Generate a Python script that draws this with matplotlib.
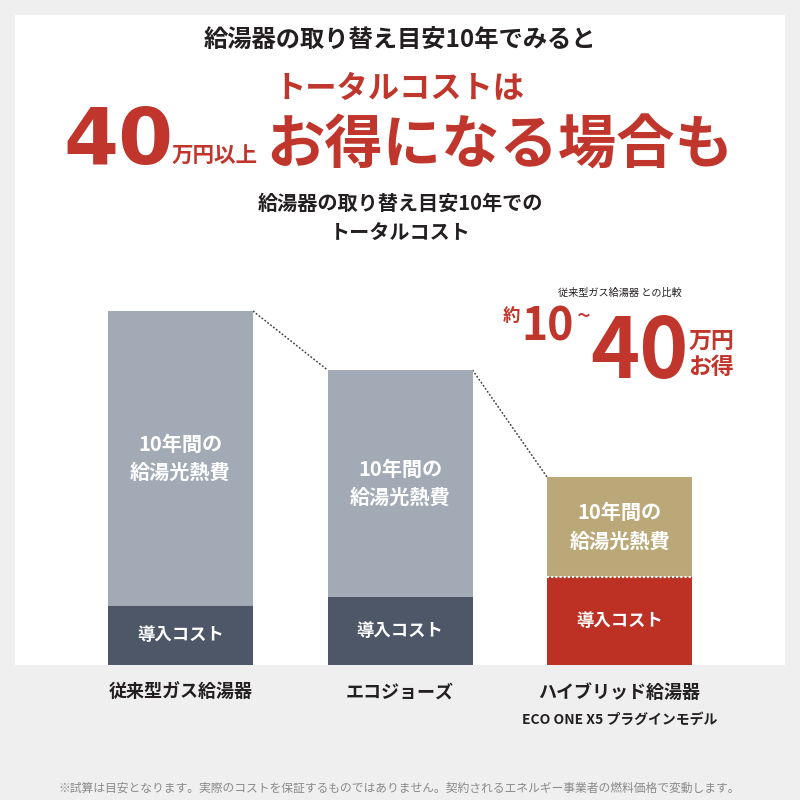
import matplotlib
matplotlib.use("Agg")
import matplotlib.pyplot as plt
from matplotlib.patches import Rectangle

plt.rcParams['font.family'] = ['Noto Sans CJK JP', 'DejaVu Sans']

# ---- data (relative heights) ----
categories = ["従来型ガス給湯器", "エコジョーズ", "ハイブリッド給湯器"]
subtitle_third = "ECO ONE X5 プラグインモデル"
intro_cost = [59, 68, 88]          # 導入コスト
energy_cost = [295, 227, 100]      # 10年間の給湯光熱費
energy_label = "10年間の\n給湯光熱費"
intro_label = "導入コスト"

C_BG = "#efefef"
C_LIGHT = "#a1aab5"
C_DARK = "#4e5767"
C_TAN = "#bba878"
C_RED = "#bd3125"
C_TXT = "#231f20"
C_RTXT = "#c0362c"

W, H = 800, 800
fig = plt.figure(figsize=(8, 8), dpi=100, facecolor=C_BG)

def fx(x):
    return x / W

def fy(y):
    return 1 - y / H

# white panel
fig.patches.append(Rectangle((fx(15), fy(665)), fx(770), 650 / H,
                             transform=fig.transFigure, facecolor="white",
                             edgecolor="none", zorder=-10))

# ---- headline texts ----
fig.text(fx(400), fy(40), "給湯器の取り替え目安10年でみると", ha="center", va="center",
         fontsize=17.5, fontweight="bold", color=C_TXT)
fig.text(fx(400), fy(89), "トータルコストは", ha="center", va="center",
         fontsize=22.5, fontweight="bold", color=C_RTXT)
fig.text(fx(63), fy(164), "40", ha="left", va="baseline", fontsize=57,
         fontweight="bold", color=C_RTXT, family="DejaVu Sans")
fig.text(fx(172), fy(156), "万円以上", ha="left", va="center", fontsize=15.5,
         fontweight="bold", color=C_RTXT)
fig.text(fx(266), fy(147), "お得になる場合も", ha="left", va="center", fontsize=42,
         fontweight="bold", color=C_RTXT)
fig.text(fx(400), fy(203), "給湯器の取り替え目安10年での", ha="center", va="center",
         fontsize=14.5, fontweight="bold", color=C_TXT)
fig.text(fx(400), fy(233), "トータルコスト", ha="center", va="center",
         fontsize=14.5, fontweight="bold", color=C_TXT)

# ---- comparison callout ----
fig.text(fx(620), fy(293), "従来型ガス給湯器 との比較", ha="center", va="center",
         fontsize=7.3, color=C_TXT)
fig.text(fx(511), fy(316), "約", ha="center", va="center", fontsize=12.5,
         fontweight="bold", color=C_RTXT)
fig.text(fx(521), fy(340), "10", ha="left", va="baseline", fontsize=32,
         fontweight="bold", color=C_RTXT)
fig.text(fx(584), fy(317), "~", ha="center", va="center", fontsize=18,
         color=C_RTXT)
fig.text(fx(590), fy(378), "40", ha="left", va="baseline", fontsize=60,
         fontweight="bold", color=C_RTXT)
fig.text(fx(711), fy(341), "万円", ha="center", va="center", fontsize=16.5,
         fontweight="bold", color=C_RTXT)
fig.text(fx(711), fy(367), "お得", ha="center", va="center", fontsize=16.5,
         fontweight="bold", color=C_RTXT)

# ---- bar chart ----
ax = fig.add_axes([fx(15), fy(665), fx(770), 650 / H])
ax.set_facecolor("none")
ax.set_xlim((15 - 180.5) / 219.5, (785 - 180.5) / 219.5)
ax.set_ylim(0, 650)
ax.axis("off")

xs = list(range(len(categories)))
bw = 145 / 219.5
bottom_cols = [C_DARK, C_DARK, C_RED]
top_cols = [C_LIGHT, C_LIGHT, C_TAN]
ax.bar(xs, intro_cost, width=bw, color=bottom_cols, zorder=2)
ax.bar(xs, energy_cost, width=bw, bottom=intro_cost, color=top_cols, zorder=2)

totals = [a + b for a, b in zip(intro_cost, energy_cost)]
for i in range(len(xs) - 1):
    ax.plot([xs[i] + bw / 2, xs[i + 1] - bw / 2], [totals[i], totals[i + 1]],
            linestyle=(0, (1.2, 1.2)), color="#444444", lw=1.1, zorder=1)

# white dotted separator on hybrid bar
ax.plot([xs[2] - bw / 2, xs[2] + bw / 2], [intro_cost[2], intro_cost[2]],
        linestyle=(0, (1, 1)), color="white", lw=1.5, zorder=3)

for i, x in enumerate(xs):
    ax.text(x, intro_cost[i] + energy_cost[i] / 2, energy_label, ha="center",
            va="center", fontsize=14.5, fontweight="bold", color="white",
            linespacing=1.45, zorder=4)
    ax.text(x, intro_cost[i] / 2, intro_label, ha="center", va="center",
            fontsize=12.5, fontweight="bold", color="white", zorder=4)
    ax.text(x, -27, categories[i], ha="center", va="center", fontsize=13,
            fontweight="bold", color=C_TXT, clip_on=False)
ax.text(xs[2], -55, subtitle_third, ha="center", va="center", fontsize=10,
        fontweight="bold", color=C_TXT, clip_on=False)

fig.text(fx(399), fy(788),
         "※試算は目安となります。実際のコストを保証するものではありません。契約されるエネルギー事業者の燃料価格で変動します。",
         ha="center", va="center", fontsize=8.5, color="#8a8a8a")

fig.savefig("out.png", dpi=100, facecolor=C_BG)
